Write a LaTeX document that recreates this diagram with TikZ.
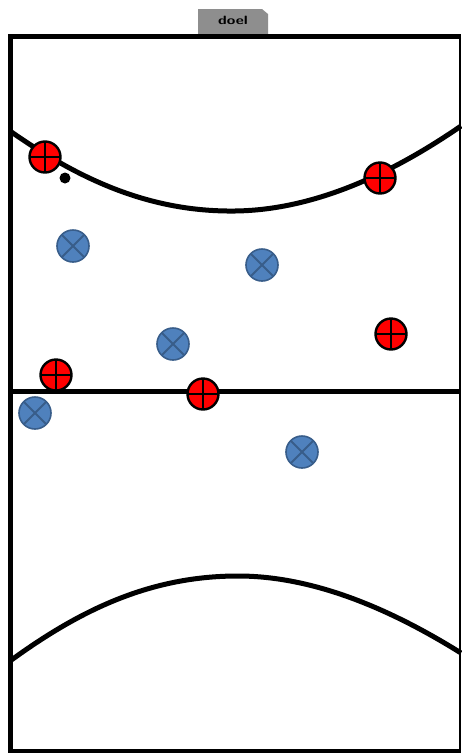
\documentclass[tikz,border=0pt]{standalone}
\usepackage{tikz}
\usetikzlibrary{positioning}
\definecolor{spelrood}{HTML}{FF0000}
\definecolor{spelblauw}{HTML}{4F81BD}
\definecolor{randblauw}{HTML}{385D8A}
\definecolor{doelgrijs}{HTML}{8E8E8E}

\begin{document}
\begin{tikzpicture}[
  x=1pt, y=-1pt,
  veldlijn/.style={black, line width=5pt},
  aanvaller/.style={circle, draw=black, line width=2.4pt, fill=spelrood,
    minimum size=31pt, inner sep=0pt,
    path picture={\draw[black, line width=2.6pt]
      (path picture bounding box.north) -- (path picture bounding box.south)
      (path picture bounding box.west) -- (path picture bounding box.east);}},
  verdediger/.style={circle, draw=randblauw, line width=1.6pt, fill=spelblauw,
    minimum size=32pt, inner sep=0pt,
    path picture={\draw[randblauw, line width=2pt]
      (path picture bounding box.north west) -- (path picture bounding box.south east)
      (path picture bounding box.south west) -- (path picture bounding box.north east);}},
  bal/.style={circle, fill=black, minimum size=11pt, inner sep=0pt},
]
\useasboundingbox (0,0) rectangle (461,753);
\fill[white] (0,0) rectangle (461,753);

% doel
\fill[doelgrijs] (198,9) -- (262,9) -- (268,14) -- (268,36) -- (198,36) -- cycle;
\node[font=\sffamily\bfseries\fontsize{12}{14}\selectfont, xscale=1.3] (doel) at (233,20) {doel};

% veld
\draw[veldlijn] (461,36.5) -- (10,36.5) -- (10,751) -- (461,751);
\draw[black, line width=2pt] (459.5,36.5) -- (459.5,751);
\draw[veldlijn] (10,391) -- (461,391);
\draw[veldlijn] (10,131) .. controls (80,180) and (150,212) .. (235,211)
  .. controls (320,210) and (400,168) .. (461,126);
\draw[veldlijn] (10,661) .. controls (80,610) and (150,576) .. (238,576)
  .. controls (320,576) and (400,615) .. (461,653);

% spelers
\foreach \n/\x/\y in {a1/45/157, a2/380/178, a3/391/334, a4/56/375, a5/203/394} {
  \node[aanvaller] (\n) at (\x,\y) {};
}
\foreach \n/\x/\y in {v1/73/246, v2/262/265, v3/173/344, v4/35/413, v5/302/452} {
  \node[verdediger] (\n) at (\x,\y) {};
}
\node[bal] (bal) at (65,178) {};
\end{tikzpicture}
\end{document}
